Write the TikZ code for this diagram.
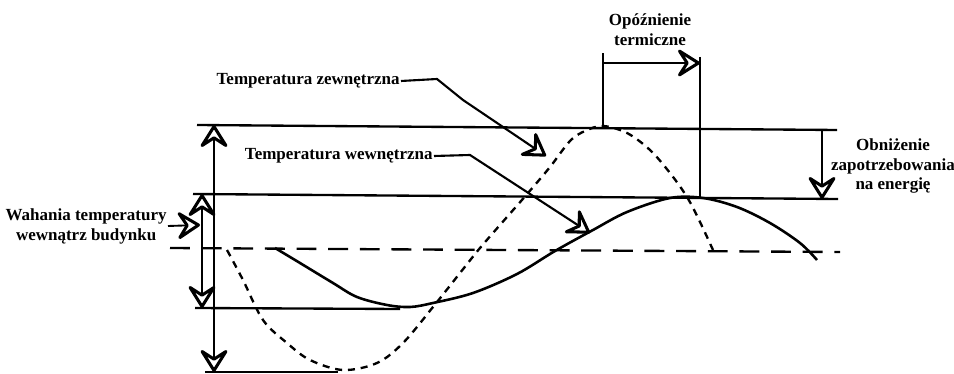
\documentclass[tikz,border=0pt]{standalone}
\usepackage{fontspec}
\setmainfont{Liberation Serif}
\usepackage{tikz}
\usetikzlibrary{arrows.meta}

\tikzset{handtip/.tip={Stealth[open, length=8mm, width=10mm, inset=3.2mm, line width=2.6pt, round]}}

\begin{document}
\begin{tikzpicture}[
  x=0.03cm, y=-0.03cm,
  lbl/.style={font=\bfseries\fontsize{14.5}{17}\selectfont, align=center, inner sep=1pt},
  hline/.style={line width=2pt},
  meanline/.style={line width=2pt, dash pattern=on 17pt off 10pt},
  outdoor/.style={line width=2pt, dash pattern=on 6pt off 5pt},
  indoor/.style={line width=2.2pt},
  dimarrow/.style={line width=1.6pt, handtip-handtip},
  onearrow/.style={line width=1.6pt, -handtip},
  leader/.style={line width=1.8pt, -handtip}
]
\useasboundingbox (0,0) rectangle (954,374);

% Level lines
\draw[hline] (197,125) -- (837,130);
\draw[hline] (193,194) -- (838,199);
\draw[meanline] (170,248) -- (840,252);
\draw[hline] (195,308) -- (400,309);
\draw[hline] (205,372) -- (338,372);

% Outdoor temperature (dashed)
\draw[outdoor] plot[smooth, tension=0.55] coordinates {
  (227,250) (243,280) (263,320) (287,343) (310,360) (343,370) (377,363)
  (403,343) (433,307) (460,273) (480,248) (507,217) (528,193) (550,167)
  (570,141) (585,131) (603,126) (627,133) (650,150) (670,173) (687,197)
  (700,222) (713,250)};

% Indoor temperature (solid)
\draw[indoor] plot[smooth, tension=0.55] coordinates {
  (275,248) (300,263) (333,283) (357,297) (387,305) (410,307) (433,303)
  (473,293) (517,274) (555,251) (593,230) (627,212) (670,198) (703,198)
  (737,207) (770,223) (800,243) (817,260)};

% Swing markers on the left
\coordinate (outtop) at (214,125);
\coordinate (outbot) at (214,372);
\coordinate (intop) at (202,194);
\coordinate (inbot) at (202,308);
\draw[dimarrow] (outtop) -- (outbot);
\draw[dimarrow] (intop) -- (inbot);

\node[lbl, anchor=east] (swinglbl) at (168,226) {Wahania temperatury\\wewnątrz budynku};
\coordinate (swingtip) at (200,225);
\draw[onearrow] (swinglbl.east) -- (swingtip);

% Curve labels
\node[lbl, anchor=east] (extlbl) at (401,81) {Temperatura zewnętrzna};
\coordinate (exttip) at (546,156);
\draw[leader] (extlbl.east) -- (437,79) -- (463,100) -- (exttip);

\node[lbl, anchor=east] (intlbl) at (434,156) {Temperatura wewnętrzna};
\coordinate (inttip) at (590,233);
\draw[leader] (intlbl.east) -- (470,155) -- (inttip);

% Thermal lag
\node[lbl] (lagtxt) at (650,30) {Opóźnienie\\termiczne};
\coordinate (lagA) at (603,63);
\coordinate (lagB) at (700,63);
\draw[hline] (603,126) -- (603,53);
\draw[hline] (700,57) -- (700,197);
\draw[onearrow] (lagA) -- (lagB);

% Energy demand reduction
\node[lbl] (savetxt) at (893,166) {Obniżenie\\zapotrzebowania\\na energię};
\coordinate (saveA) at (822,130);
\coordinate (saveB) at (822,199);
\draw[onearrow] (saveA) -- (saveB);

\end{tikzpicture}
\end{document}
